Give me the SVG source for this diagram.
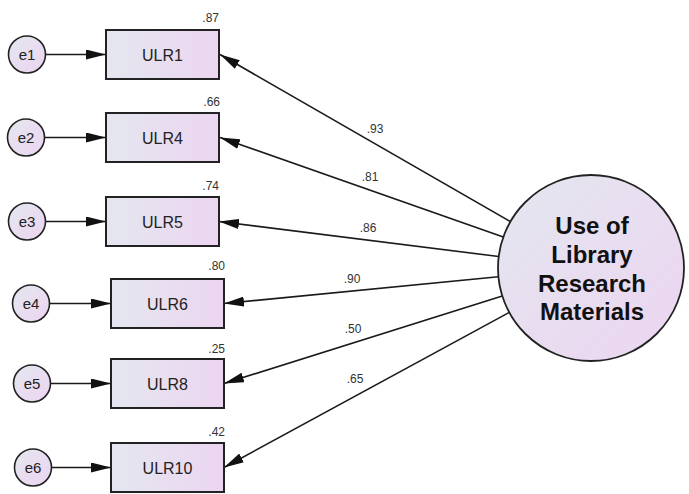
<svg xmlns="http://www.w3.org/2000/svg" width="689" height="494" viewBox="0 0 689 494">
  <style>
    .obs { stroke: #222; stroke-width: 2; fill: url(#boxFill); }
    .err { stroke: #222; stroke-width: 1.6; fill: url(#ballFill); }
    .lat { stroke: #222; stroke-width: 1.8; fill: url(#ballFill); }
    .name { font-family: "Liberation Sans", Arial, sans-serif; font-size: 16px; fill: #222; text-anchor: middle; }
    .ename { font-family: "Liberation Sans", Arial, sans-serif; font-size: 15px; fill: #222; text-anchor: middle; }
    .big { font-family: "Liberation Sans", Arial, sans-serif; font-size: 24px; font-weight: bold; fill: #111; text-anchor: middle; }
    .num { font-family: "Liberation Sans", Arial, sans-serif; font-size: 12px; fill: #333; }
    .r2 { text-anchor: end; }
    .ld { text-anchor: middle; }
    .edge { stroke: #1a1a1a; stroke-width: 1.6; fill: none; marker-end: url(#head); }
  </style>
  <defs>
    <linearGradient id="boxFill" x1="0" y1="0" x2="1" y2="0">
      <stop offset="0" stop-color="#e4e7ef"/>
      <stop offset="1" stop-color="#ecd5f1"/>
    </linearGradient>
    <linearGradient id="ballFill" x1="0" y1="0" x2="1" y2="1">
      <stop offset="0" stop-color="#e4e7ef"/>
      <stop offset="1" stop-color="#ecd4f1"/>
    </linearGradient>
    <marker id="head" markerUnits="userSpaceOnUse" markerWidth="20" markerHeight="10" refX="20" refY="5" orient="auto">
      <path d="M0,0 L20,5 L0,10 z" fill="#111"/>
    </marker>
  </defs>

  <!-- paths: errors into indicators, factor into indicators -->
  <g id="connectors">
    <line class="edge" x1="45.5" y1="54.5" x2="106" y2="54.5"/>
    <line class="edge" x1="44.5" y1="137.5" x2="106" y2="137.5"/>
    <line class="edge" x1="45.5" y1="221.5" x2="106" y2="221.5"/>
    <line class="edge" x1="49.5" y1="303.5" x2="111" y2="303.5"/>
    <line class="edge" x1="50.5" y1="383.5" x2="111" y2="383.5"/>
    <line class="edge" x1="51.5" y1="467.5" x2="111" y2="467.5"/>

    <line class="edge" x1="510.4" y1="221.6" x2="220" y2="54.5"/>
    <line class="edge" x1="503.3" y1="237.1" x2="220" y2="137.5"/>
    <line class="edge" x1="498.7" y1="256.5" x2="219" y2="221.5"/>
    <line class="edge" x1="498.4" y1="276.8" x2="224" y2="303.5"/>
    <line class="edge" x1="502.3" y1="295.9" x2="224" y2="383.5"/>
    <line class="edge" x1="509.3" y1="312.4" x2="224" y2="467.5"/>

    <text class="num ld" x="375" y="133">.93</text>
    <text class="num ld" x="370" y="181">.81</text>
    <text class="num ld" x="368" y="232">.86</text>
    <text class="num ld" x="352" y="283">.90</text>
    <text class="num ld" x="353" y="333">.50</text>
    <text class="num ld" x="355" y="383">.65</text>
  </g>

  <!-- error terms -->
  <g id="e1"><circle class="err" cx="27" cy="54.5" r="18.5"/><text class="ename" x="27" y="60">e1</text></g>
  <g id="e2"><circle class="err" cx="26" cy="137.5" r="18.5"/><text class="ename" x="26" y="143">e2</text></g>
  <g id="e3"><circle class="err" cx="27" cy="221.5" r="18.5"/><text class="ename" x="27" y="227">e3</text></g>
  <g id="e4"><circle class="err" cx="31" cy="303.5" r="18.5"/><text class="ename" x="31" y="309">e4</text></g>
  <g id="e5"><circle class="err" cx="32" cy="383.5" r="18.5"/><text class="ename" x="32" y="389">e5</text></g>
  <g id="e6"><circle class="err" cx="33" cy="467.5" r="18.5"/><text class="ename" x="33" y="473">e6</text></g>

  <!-- observed indicators with squared multiple correlations -->
  <g id="ULR1"><rect class="obs" x="106" y="30" width="113" height="49"/><text class="name" x="162.5" y="60.5">ULR1</text><text class="num r2" x="219" y="22">.87</text></g>
  <g id="ULR4"><rect class="obs" x="106" y="113" width="113" height="49"/><text class="name" x="162.5" y="143.5">ULR4</text><text class="num r2" x="220" y="106">.66</text></g>
  <g id="ULR5"><rect class="obs" x="106" y="197" width="113" height="49"/><text class="name" x="162.5" y="227.5">ULR5</text><text class="num r2" x="219" y="190">.74</text></g>
  <g id="ULR6"><rect class="obs" x="111" y="279" width="113" height="49"/><text class="name" x="167.5" y="309.5">ULR6</text><text class="num r2" x="225" y="270">.80</text></g>
  <g id="ULR8"><rect class="obs" x="111" y="359" width="113" height="49"/><text class="name" x="167.5" y="389.5">ULR8</text><text class="num r2" x="225" y="353">.25</text></g>
  <g id="ULR10"><rect class="obs" x="111" y="443" width="113" height="49"/><text class="name" x="167.5" y="473.5">ULR10</text><text class="num r2" x="225" y="436">.42</text></g>

  <!-- latent factor -->
  <g id="factor">
    <circle class="lat" cx="591" cy="268" r="93"/>
    <text class="big" x="592" y="234">Use of</text>
    <text class="big" x="592" y="263">Library</text>
    <text class="big" x="592" y="292">Research</text>
    <text class="big" x="592" y="320">Materials</text>
  </g>
</svg>
